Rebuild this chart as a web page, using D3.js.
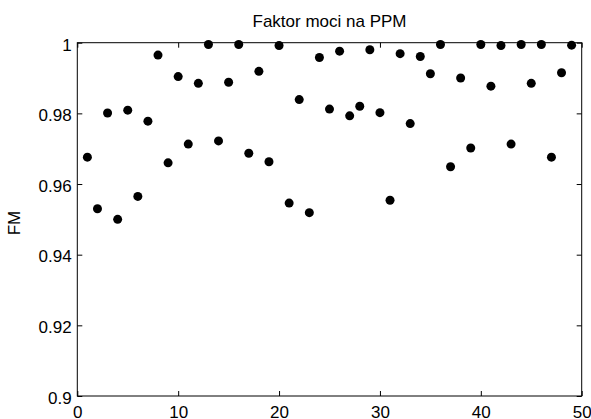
<!DOCTYPE html>
<html>
<head>
<meta charset="utf-8">
<script src="https://cdn.jsdelivr.net/npm/d3@7"></script>
<style>
  html, body { margin: 0; padding: 0; background: #fff; }
  svg { display: block; }
  text { font-family: "Liberation Sans", Arial, Helvetica, sans-serif; fill: #000; }
</style>
</head>
<body>
<svg id="chart" width="591" height="419"></svg>
<script>
const title = "Faktor moci na PPM";
const yLabel = "FM";
const xValues = [1,2,3,4,5,6,7,8,9,10,11,12,13,14,15,16,17,18,19,20,21,22,23,24,25,26,27,28,29,30,31,32,33,34,35,36,37,38,39,40,41,42,43,44,45,46,47,48,49];
const fmValues = [0.9676,0.9530,0.9801,0.9500,0.9809,0.9565,0.9778,0.9965,0.9660,0.9904,
                  0.9713,0.9885,0.9995,0.9722,0.9888,0.9995,0.9687,0.9919,0.9663,0.9992,
                  0.9546,0.9839,0.9519,0.9958,0.9812,0.9976,0.9793,0.9820,0.9980,0.9802,
                  0.9554,0.9969,0.9771,0.9961,0.9912,0.9995,0.9649,0.9900,0.9702,0.9995,
                  0.9877,0.9992,0.9713,0.9995,0.9885,0.9995,0.9676,0.9915,0.9993];
const xTicks = [0,10,20,30,40,50];
const yTicks = [0.9,0.92,0.94,0.96,0.98,1];
const yTickLabels = ["0.9","0.92","0.94","0.96","0.98","1"];

const svg = d3.select("#chart");
const L = 77.3, R = 581.7, T = 42.7, B = 396;
const x = d3.scaleLinear().domain([0,50]).range([L,R]);
const y = d3.scaleLinear().domain([0.9,1]).range([B,T]);
const fontSize = 17;

// frame
svg.append("rect").attr("x",L).attr("y",T).attr("width",R-L).attr("height",B-T)
  .attr("fill","#fff").attr("stroke","#000").attr("stroke-width",1);

function style(g){
  g.select(".domain").remove();
  g.selectAll(".tick line").attr("stroke","#000").attr("stroke-width",1);
  g.selectAll(".tick text").attr("font-size",fontSize).attr("fill","#000")
    .attr("font-family","'Liberation Sans', Arial, sans-serif");
}

svg.append("g").attr("transform",`translate(0,${B})`)
  .call(d3.axisBottom(x).tickValues(xTicks).tickFormat(d3.format("d")).tickSizeInner(-5).tickSizeOuter(0).tickPadding(9.6))
  .call(style);
svg.append("g").attr("transform",`translate(0,${T})`)
  .call(d3.axisTop(x).tickValues(xTicks).tickFormat("").tickSizeInner(-5).tickSizeOuter(0))
  .call(style);
svg.append("g").attr("transform",`translate(${L},0)`)
  .call(d3.axisLeft(y).tickValues(yTicks).tickFormat((d,i)=>yTickLabels[i]).tickSizeInner(-5).tickSizeOuter(0).tickPadding(5.6))
  .call(style)
  .call(g=>g.selectAll(".tick text").attr("dy","0.43em"));
svg.append("g").attr("transform",`translate(${R},0)`)
  .call(d3.axisRight(y).tickValues(yTicks).tickFormat("").tickSizeInner(-5).tickSizeOuter(0))
  .call(style);

// points
svg.append("g").selectAll("circle")
  .data(xValues.map((v,i)=>({x:v,y:fmValues[i]})))
  .join("circle")
  .attr("cx",d=>x(d.x)).attr("cy",d=>y(d.y)).attr("r",4.5).attr("fill","#000");

// title
svg.append("text").attr("x",(L+R)/2).attr("y",27.3).attr("text-anchor","middle")
  .attr("font-size",fontSize).text(title);

// y label
svg.append("text").attr("transform",`translate(19.5,223) rotate(-90)`)
  .attr("text-anchor","middle").attr("font-size",fontSize).text(yLabel);
</script>
</body>
</html>
